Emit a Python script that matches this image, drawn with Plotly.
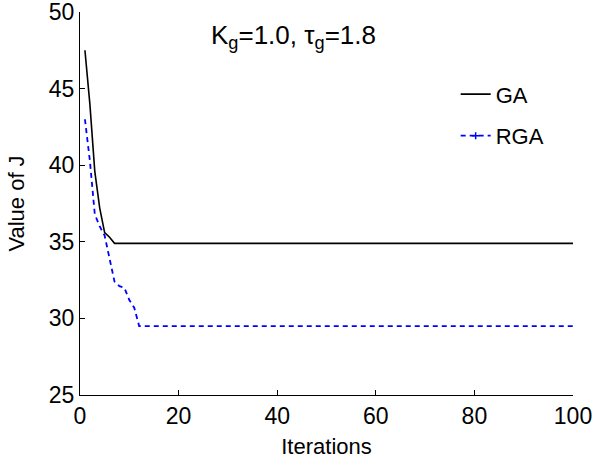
import plotly.graph_objects as go

# Iteration counter (generations 1..100)
iterations = list(range(1, 101))

# Best objective value J per iteration, standard GA
ga_head = [47.5, 44.0, 39.6, 37.2, 35.6, 35.3, 34.9]
ga_values = ga_head + [34.9] * (100 - len(ga_head))

# Best objective value J per iteration, RGA
rga_head = [43.0, 40.3, 36.8, 36.0, 35.4, 33.9, 32.4, 32.1, 32.0, 31.2, 30.7, 29.5]
rga_values = rga_head + [29.5] * (100 - len(rga_head))

x_ticks = [0, 20, 40, 60, 80, 100]
y_ticks = [25, 30, 35, 40, 45, 50]

FONT = "Liberation Sans, Arial, sans-serif"
fig = go.Figure()

fig.add_trace(go.Scatter(
    x=iterations, y=ga_values, mode="lines", name="GA",
    line=dict(color="black", width=1.6), legendgroup="ga",
))
fig.add_trace(go.Scatter(
    x=iterations, y=rga_values, mode="lines", name="RGA", showlegend=False,
    line=dict(color="#0000ff", width=1.8, dash="5px,4px"),
))
# legend entry for RGA: dashed line with a point marker
fig.add_trace(go.Scatter(
    x=[None], y=[None], mode="lines+markers", name="RGA", legendgroup="rga",
    line=dict(color="#0000ff", width=1.8, dash="5px,4px"),
    marker=dict(color="#0000ff", size=5, symbol="cross-thin",
                line=dict(color="#0000ff", width=1.5)),
))

fig.add_annotation(
    x=0.434, y=0.985, xref="paper", yref="paper", xanchor="center", yanchor="top",
    text="K<sub>g</sub>=1.0, τ<sub>g</sub>=1.8", showarrow=False,
    font=dict(family=FONT, size=26, color="black"),
)

axis_common = dict(
    showline=True, linecolor="black", linewidth=1.2, mirror=False,
    ticks="inside", ticklen=5, tickcolor="black", tickwidth=1.2,
    showgrid=False, zeroline=False, automargin=False,
    ticklabeloverflow="allow",
    tickfont=dict(family=FONT, size=23, color="black"),
)

fig.update_layout(
    width=594, height=467,
    margin=dict(l=80, r=21, t=12, b=72),
    plot_bgcolor="white", paper_bgcolor="white",
    xaxis=dict(range=[0, 100], tickvals=x_ticks, **axis_common,
               title=dict(text="Iterations", standoff=10,
                          font=dict(family=FONT, size=22, color="black"))),
    yaxis=dict(range=[25, 50], tickvals=y_ticks, **axis_common,
               title=dict(text="Value of J", standoff=18,
                          font=dict(family=FONT, size=22, color="black"))),
    legend=dict(
        x=0.762, y=0.84, xanchor="left", yanchor="top",
        bgcolor="rgba(0,0,0,0)", borderwidth=0,
        font=dict(family=FONT, size=22, color="black"),
        tracegroupgap=10,
    ),
    showlegend=True,
)

fig.write_html("out.html")
